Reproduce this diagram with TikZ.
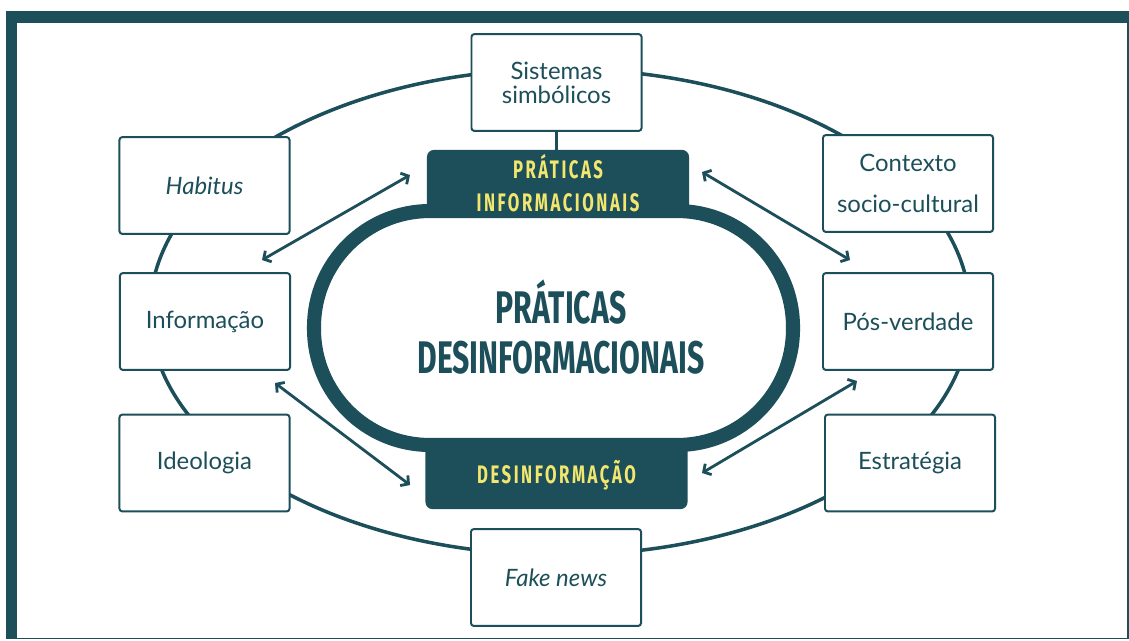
\documentclass[tikz,border=0pt]{standalone}
\usepackage{fontspec}
\setmainfont{Lato}
\newfontfamily\headfont{Fira Sans}[FakeStretch=0.66]
\newfontfamily\tagfont{Fira Sans}[FakeStretch=0.66,LetterSpace=10]
\usetikzlibrary{arrows.meta}
\definecolor{petrol}{HTML}{1C4F5A}
\definecolor{straw}{HTML}{F3E66E}

\begin{document}
\begin{tikzpicture}
[
x=0.025cm, y=-0.025cm,
box/.style={draw=petrol, line width=1.4pt, fill=white, rounded corners=2pt, minimum width=4.25cm, minimum height=2.42cm, text=petrol, align=center, font=\fontsize{17}{17}\selectfont},
tag/.style={fill=petrol, rounded corners=5pt, minimum width=6.55cm, minimum height=1.68cm, text=straw, align=center, font=\tagfont\bfseries\fontsize{18}{23.5}\selectfont},
twoway/.style={draw=petrol, line width=2pt, {Straight Barb[length=4pt,width=9pt]}-{Straight Barb[length=4pt,width=9pt]}}
]
\useasboundingbox (0,0) rectangle (1129,640);
\fill[petrol] (6,11) rectangle (1128.5,639);
\fill[white] (17,22.5) rectangle (1127,637.5);

\draw[petrol, line width=2.5pt] (560,312) ellipse [x radius=410, y radius=243];
\draw[petrol, line width=10pt, rounded corners=2.9cm] (314,211) rectangle (793,445);

\node[box] (sis) at (556.5,82.5) {Sistemas\\simbólicos};
\node[box] (hab) at (204.5,185.5) {\textit{Habitus}};
\node[box, font=\fontsize{17}{29}\selectfont] (ctx) at (908,183.5) {Contexto\\socio-cultural};
\node[box] (inf) at (205,321.5) {Informação};
\node[box] (pos) at (908,321.5) {Pós-verdade};
\node[box] (ideo) at (204.5,463) {Ideologia};
\node[box] (estr) at (910,463) {Estratégia};
\node[box] (fake) at (556,577.5) {\textit{Fake news}};

\node[tag] (prat) at (558,183.5) {PRÁTICAS\\INFORMACIONAIS};
\node[tag] (desinf) at (556.5,475.5) {DESINFORMAÇÃO};
\node[text=petrol, align=center, font=\headfont\bfseries\fontsize{32.5}{36}\selectfont] (title) at (561,327) {PRÁTICAS\\DESINFORMACIONAIS};

\draw[petrol, line width=2.2pt] (sis.south) -- (sis.south |- prat.north);

\coordinate (a1) at (262,260);
\coordinate (a2) at (410,175);
\coordinate (b1) at (702,172);
\coordinate (b2) at (850,260);
\coordinate (c1) at (275,383);
\coordinate (c2) at (410,485);
\coordinate (d1) at (857,381);
\coordinate (d2) at (702,473);

\draw[twoway] (a1) -- (a2);
\draw[twoway] (b1) -- (b2);
\draw[twoway] (c1) -- (c2);
\draw[twoway] (d1) -- (d2);
\end{tikzpicture}
\end{document}
